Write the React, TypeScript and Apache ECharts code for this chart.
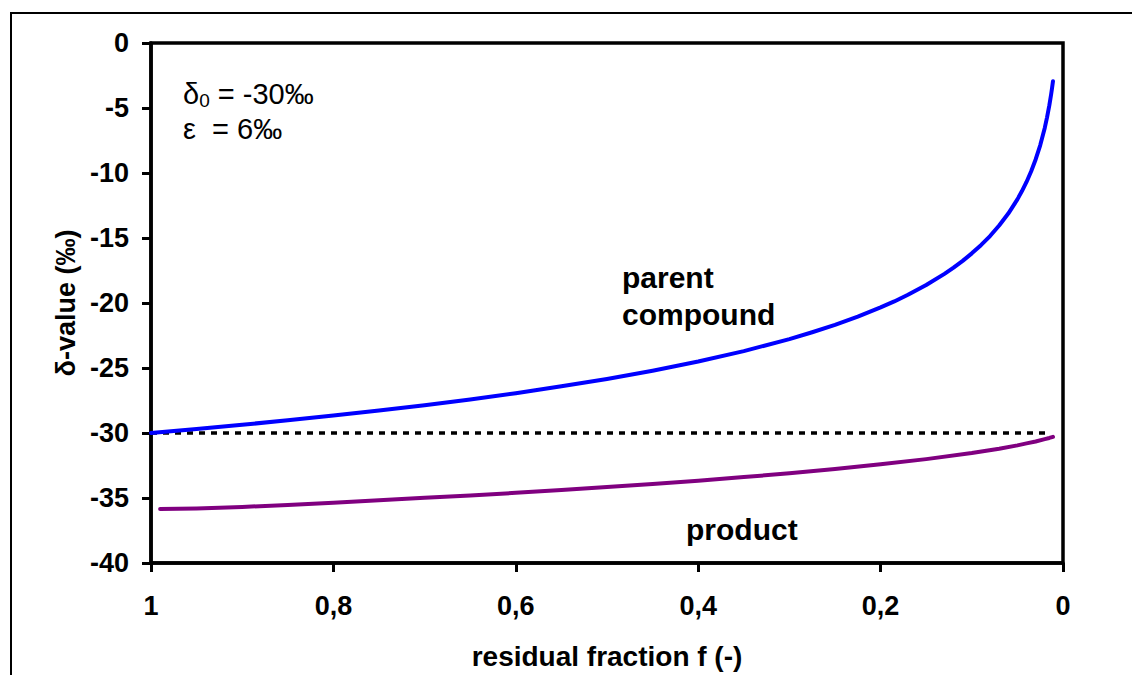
import React, { useEffect, useRef } from "react";
import * as echarts from "echarts";

const fParent = [1, 0.95, 0.9, 0.85, 0.8, 0.75, 0.7, 0.65, 0.6, 0.55, 0.5, 0.45, 0.4, 0.35, 0.3, 0.275, 0.25, 0.225, 0.2, 0.185, 0.17, 0.15, 0.13, 0.12, 0.11, 0.1, 0.09, 0.08, 0.07, 0.06, 0.05, 0.045, 0.04, 0.035, 0.03, 0.025, 0.02, 0.0175, 0.015, 0.013, 0.012, 0.011];
const parentVals = [-30, -29.69, -29.37, -29.02, -28.66, -28.27, -27.86, -27.42, -26.94, -26.41, -25.84, -25.21, -24.5, -23.7, -22.78, -22.25, -21.68, -21.05, -20.34, -19.88, -19.37, -18.62, -17.76, -17.28, -16.76, -16.18, -15.55, -14.85, -14.04, -13.12, -12.03, -11.39, -10.69, -9.89, -8.96, -7.87, -6.53, -5.72, -4.8, -3.94, -3.46, -2.94];

const fProduct = [0.99, 0.95, 0.9, 0.85, 0.8, 0.75, 0.7, 0.65, 0.6, 0.55, 0.5, 0.45, 0.4, 0.35, 0.3, 0.25, 0.2, 0.15, 0.1, 0.07, 0.05, 0.04, 0.03, 0.02, 0.015, 0.011];
const productVals = [-35.85, -35.8, -35.69, -35.53, -35.36, -35.18, -34.99, -34.8, -34.6, -34.38, -34.16, -33.92, -33.67, -33.39, -33.1, -32.77, -32.41, -32.01, -31.54, -31.21, -30.95, -30.8, -30.65, -30.47, -30.38, -30.3];

const refF = [1, 0.017];
const refVals = [-30, -30];

const xTicks = ["1", "0,8", "0,6", "0,4", "0,2", "0"];

const FONT = "Arial, 'Liberation Sans', sans-serif";

export default function App() {
  const ref = useRef<HTMLDivElement>(null);
  useEffect(() => {
    if (!ref.current) return;
    const chart = echarts.init(ref.current, null, { renderer: "svg" });
    const pair = (xs: number[], ys: number[]) => xs.map((x, i) => [x, ys[i]]);
    chart.setOption({
      animation: false,
      backgroundColor: "#fff",
      grid: {
        left: 151,
        top: 43,
        width: 912,
        height: 521,
        show: true,
        borderColor: "#000",
        borderWidth: 3.5,
        backgroundColor: "transparent",
      },
      xAxis: {
        type: "value",
        inverse: true,
        min: 0,
        max: 1,
        interval: 0.2,
        name: "residual fraction f (-)",
        nameLocation: "middle",
        nameGap: 79,
        nameTextStyle: { fontFamily: FONT, fontWeight: "bold", fontSize: 28, color: "#000" },
        axisLine: { show: true, onZero: false, lineStyle: { color: "#000", width: 3.5 } },
        axisTick: { show: true, inside: false, length: 9, lineStyle: { color: "#000", width: 3 } },
        axisLabel: {
          fontFamily: FONT,
          fontWeight: "bold",
          fontSize: 27,
          color: "#000",
          margin: 29,
          formatter: (v: number) => xTicks[Math.round((1 - v) / 0.2)] ?? "",
        },
        splitLine: { show: false },
      },
      yAxis: {
        type: "value",
        min: -40,
        max: 0,
        interval: 5,
        name: "δ-value (‰)",
        nameLocation: "middle",
        nameGap: 55,
        nameRotate: 90,
        nameTextStyle: { fontFamily: FONT, fontWeight: "bold", fontSize: 27, color: "#000" },
        axisLine: { show: true, onZero: false, lineStyle: { color: "#000", width: 3.5 } },
        axisTick: { show: true, inside: false, length: 9, lineStyle: { color: "#000", width: 3 } },
        axisLabel: {
          fontFamily: FONT,
          fontWeight: "bold",
          fontSize: 27,
          color: "#000",
          margin: 22,
        },
        splitLine: { show: false },
      },
      series: [
        {
          type: "line",
          name: "reference",
          data: pair(refF, refVals),
          showSymbol: false,
          lineStyle: { color: "#000", width: 3.5, type: [6, 6] },
          z: 1,
        },
        {
          type: "line",
          name: "parent compound",
          data: pair(fParent, parentVals),
          smooth: false,
          showSymbol: false,
          lineStyle: { color: "#0000ff", width: 4, join: "round", cap: "round" },
          z: 3,
        },
        {
          type: "line",
          name: "product",
          data: pair(fProduct, productVals),
          smooth: false,
          showSymbol: false,
          lineStyle: { color: "#800080", width: 4, join: "round", cap: "round" },
          z: 3,
        },
      ],
      graphic: [
        {
          type: "rect",
          shape: { x: 11, y: 13, width: 1300, height: 800 },
          style: { fill: "none", stroke: "#000", lineWidth: 2 },
          silent: true,
          z: -1,
        },
        {
          type: "text",
          x: 183,
          y: 78,
          style: {
            text: "δ{sub|0} = -30‰",
            fontFamily: FONT,
            fontSize: 29,
            fill: "#000",
            rich: {
              sub: { fontFamily: FONT, fontSize: 19, verticalAlign: "bottom", padding: [13, 0, 0, 0] },
            },
          },
        },
        {
          type: "text",
          x: 183,
          y: 114,
          style: { text: "ε  = 6‰", fontFamily: FONT, fontSize: 29, fill: "#000" },
        },
        {
          type: "text",
          x: 622,
          y: 259,
          style: {
            text: "parent\ncompound",
            fontFamily: FONT,
            fontWeight: "bold",
            fontSize: 30,
            lineHeight: 37,
            fill: "#000",
          },
        },
        {
          type: "text",
          x: 686,
          y: 514,
          style: { text: "product", fontFamily: FONT, fontWeight: "bold", fontSize: 30, fill: "#000" },
        },
      ],
    });
    return () => chart.dispose();
  }, []);
  return (
    <div
      ref={ref}
      style={{ position: "fixed", left: 0, top: 0, width: 1132, height: 675, background: "#fff" }}
    />
  );
}
